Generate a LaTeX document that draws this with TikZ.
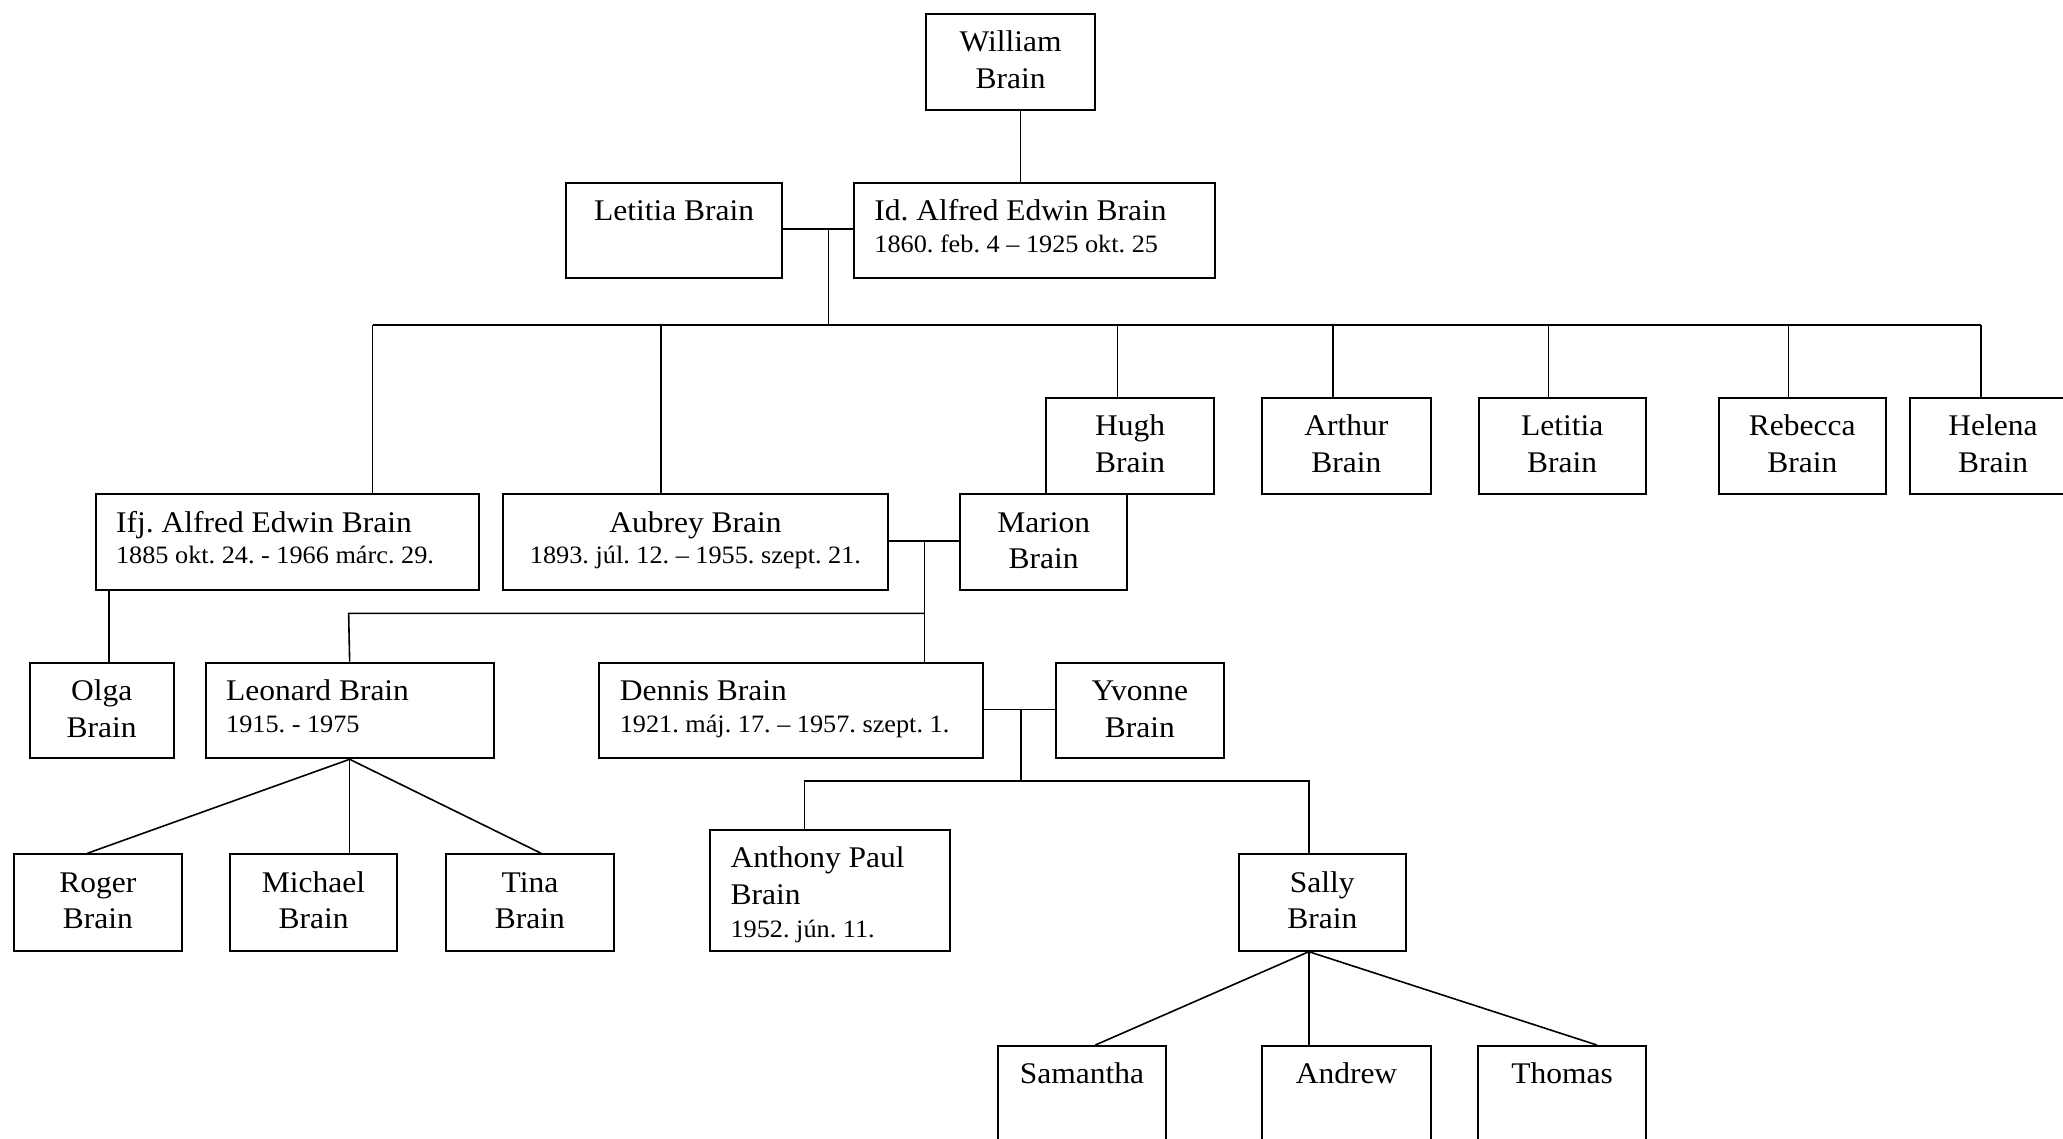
\documentclass[tikz,border=0pt]{standalone}
\usepackage{fontspec}
\setmainfont{Liberation Serif}[FakeStretch=1.05]
\frenchspacing
\newcommand\nmfont{\fontsize{15}{18.35}\selectfont}
\newcommand\dtfont{\fontsize{12.5}{15}\selectfont}
\newcommand\fst{\rule{0pt}{15pt}}
\tikzset{
  box/.style={draw, line width=1pt, inner sep=0pt, fill=white},
  link/.style={line width=0.8pt},
  nm/.style={font=\nmfont, inner sep=0pt, align=center},
  nml/.style={font=\nmfont, inner sep=0pt, align=left},
}
\newcommand{\pbx}[5]{%
  \pgfmathsetmacro\bw{(#4-#2)*0.5}\pgfmathsetmacro\bh{(#5-#3)*0.5}%
  \node[box, minimum width=\bw pt, minimum height=\bh pt, anchor=north west] (#1) at (#2,#3) {};}
\newcommand{\ctxt}[2]{\node[nm, anchor=north] at ([yshift=-4.25pt]#1.north) {\fst#2};}
\newcommand{\ltxt}[2]{\node[nml, anchor=north west] at ([xshift=10.5pt,yshift=-4.25pt]#1.north west) {\fst#2};}
\begin{document}
\begin{tikzpicture}[x=0.5pt,y=-0.5pt]
\useasboundingbox (0,0) rectangle (2063,1139);
\clip (0,0) rectangle (2063,1139);
% boxes
\pbx{william}{924.6}{12.7}{1094.4}{109}
\pbx{letw}{565.4}{181.7}{780.8}{277.3}
\pbx{alfred}{853}{181.7}{1213.6}{277.3}
\pbx{ifj}{94.7}{493.3}{478.4}{589}
\pbx{aubrey}{502.3}{493.3}{886.7}{589}
\pbx{hugh}{1045.4}{396.7}{1213}{492.7}
\pbx{arthur}{1261}{396.7}{1429.7}{492.7}
\pbx{letitia}{1477.5}{396.7}{1644.8}{492.7}
\pbx{rebecca}{1717.5}{396.7}{1885}{492.7}
\pbx{helena}{1909}{396.7}{2075}{492.7}
\pbx{marion}{959}{493.3}{1126.3}{589}
\pbx{olga}{28.8}{661.7}{172.6}{757.3}
\pbx{leonard}{204.8}{661.7}{492.5}{757.3}
\pbx{dennis}{598.4}{661.7}{982.1}{757.3}
\pbx{yvonne}{1055}{661.7}{1222.7}{757.3}
\pbx{roger}{12.6}{853.3}{181}{949.7}
\pbx{michael}{228.7}{853.3}{396.4}{949.7}
\pbx{tina}{444.8}{853.3}{613.1}{949.7}
\pbx{anthony}{709.2}{829}{949.2}{949.7}
\pbx{sally}{1237.5}{853.3}{1405.2}{949.7}
\pbx{samantha}{997.2}{1045}{1164.8}{1160}
\pbx{andrew}{1261.3}{1045}{1429.7}{1160}
\pbx{thomas}{1477.2}{1045}{1644.8}{1160}
% texts
\ctxt{william}{William\\Brain}
\ctxt{letw}{Letitia Brain}
\ltxt{alfred}{Id. Alfred Edwin Brain\\[-2.5pt]{\dtfont 1860. feb. 4 – 1925 okt. 25}}
\ltxt{ifj}{Ifj. Alfred Edwin Brain\\[-2.5pt]{\dtfont 1885 okt. 24. - 1966 márc. 29.}}
\ctxt{aubrey}{Aubrey Brain\\[-2.5pt]{\dtfont 1893. júl. 12. – 1955. szept. 21.}}
\ctxt{hugh}{Hugh\\Brain}
\ctxt{arthur}{Arthur\\Brain}
\ctxt{letitia}{Letitia\\Brain}
\ctxt{rebecca}{Rebecca\\Brain}
\ctxt{helena}{Helena\\Brain}
\ctxt{marion}{Marion\\Brain}
\ctxt{olga}{Olga\\Brain}
\ltxt{leonard}{Leonard Brain\\[-2.5pt]{\dtfont 1915. - 1975}}
\ltxt{dennis}{Dennis Brain\\[-2.5pt]{\dtfont 1921. máj. 17. – 1957. szept. 1.}}
\ctxt{yvonne}{Yvonne\\Brain}
\ctxt{roger}{Roger\\Brain}
\ctxt{michael}{Michael\\Brain}
\ctxt{tina}{Tina\\Brain}
\ltxt{anthony}{Anthony Paul\\Brain\\[-2pt]{\dtfont 1952. jún. 11.}}
\ctxt{sally}{Sally\\Brain}
\ctxt{samantha}{Samantha}
\ctxt{andrew}{Andrew}
\ctxt{thomas}{Thomas}
% connectors
\coordinate (cw) at (1020.5,109);
\draw[link] (william.south -| cw) -- (alfred.north -| cw);
\coordinate (m1) at (828.5,229.3);
\coordinate (b1) at (828.5,325);
\draw[link] (letw.east |- m1) -- (alfred.west |- m1);
\draw[link] (m1) -- (b1);
\coordinate (d1) at (372.5,325);
\coordinate (d2) at (660.8,325);
\coordinate (d3) at (1117.3,325);
\coordinate (d4) at (1333,325);
\coordinate (d5) at (1548.5,325);
\coordinate (d6) at (1788.5,325);
\coordinate (d7) at (1981,325);
\draw[link] (d1) -- (d7);
\draw[link] (d1) -- (d1 |- ifj.north);
\draw[link] (d2) -- (d2 |- aubrey.north);
\draw[link] (d3) -- (d3 |- hugh.north);
\draw[link] (d4) -- (d4 |- arthur.north);
\draw[link] (d5) -- (d5 |- letitia.north);
\draw[link] (d6) -- (d6 |- rebecca.north);
\draw[link] (d7) -- (d7 |- helena.north);
% Aubrey + Marion
\coordinate (m2) at (924.6,541);
\coordinate (b2) at (924.6,613.3);
\coordinate (b2l) at (348.65,613.3);
\draw[link] (aubrey.east |- m2) -- (marion.west |- m2);
\draw[link] (m2) -- (m2 |- dennis.north);
\draw[link] (b2) -- (b2l) -- (leonard.north);
% Olga
\coordinate (o1) at (108.7,589);
\draw[link] (ifj.south -| o1) -- (olga.north -| o1);
% Leonard children
\draw[link] (leonard.south) -- ([xshift=-5.25pt]roger.north);
\draw[link] (leonard.south) -- (leonard.south |- michael.north);
\draw[link] (leonard.south) -- ([xshift=5.6pt]tina.north);
% Dennis + Yvonne
\coordinate (m3) at (1020.7,709.3);
\coordinate (b3) at (1020.7,780.7);
\coordinate (b3l) at (804.6,780.7);
\coordinate (b3r) at (1308.8,780.7);
\draw[link] (dennis.east |- m3) -- (yvonne.west |- m3);
\draw[link] (m3) -- (b3);
\draw[link] (b3l |- anthony.north) -- (b3l) -- (b3r) -- (b3r |- sally.north);
% Sally children
\coordinate (s0) at (1308.8,949.7);
\draw[link] (sally.south -| s0) -- ([xshift=6.7pt]samantha.north);
\draw[link] (sally.south -| s0) -- (s0 |- andrew.north);
\draw[link] (sally.south -| s0) -- ([xshift=17.4pt]thomas.north);
\end{tikzpicture}
\end{document}
